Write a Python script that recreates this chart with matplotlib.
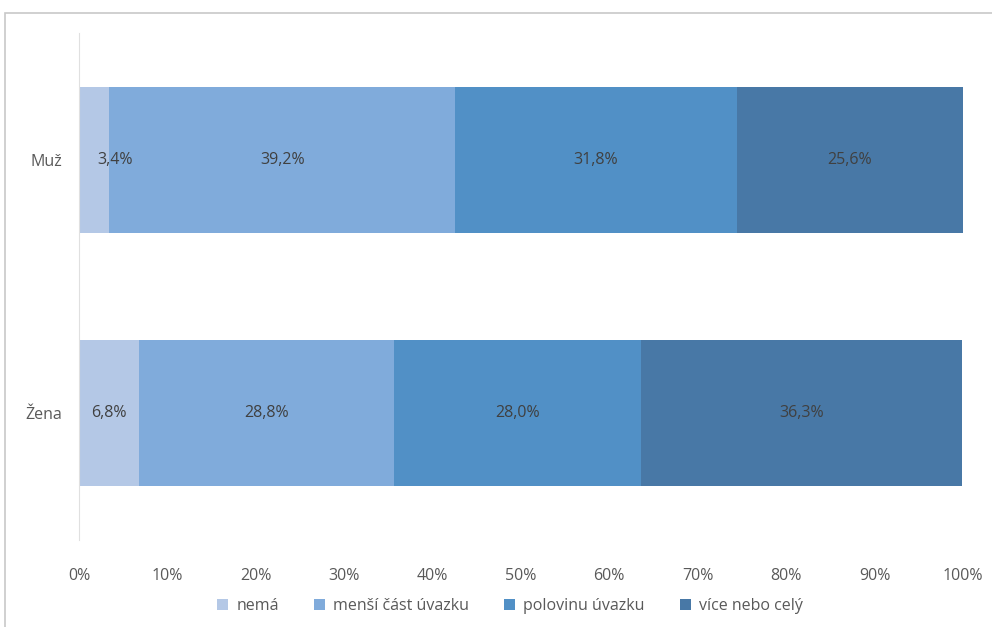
import matplotlib.pyplot as plt
from matplotlib.patches import Rectangle

plt.rcParams['font.family'] = ['Open Sans', 'DejaVu Sans']

# data
groups = ['Žena', 'Muž']
series = ['nemá', 'menší část úvazku', 'polovinu úvazku', 'více nebo celý']
nema = [6.8, 3.4]
mensi = [28.8, 39.2]
polovina = [28.0, 31.8]
vice = [36.3, 25.6]
labels_zena = ['6,8%', '28,8%', '28,0%', '36,3%']
labels_muz = ['3,4%', '39,2%', '31,8%', '25,6%']
colors = ['#b4c8e6', '#80abdb', '#5190c6', '#4878a6']

fig = plt.figure(figsize=(9.92, 6.27), dpi=100)
ax = fig.add_axes([0.0796, 0.139, 0.891, 0.808])

values = [nema, mensi, polovina, vice]
left = [0, 0]
for i, vals in enumerate(values):
    ax.barh(range(len(groups)), vals, left=left, height=0.574,
            color=colors[i], label=series[i])
    for j, v in enumerate(vals):
        txt = labels_zena[i] if j == 0 else labels_muz[i]
        # the narrow 3,4% label sits a bit to the right in the original
        dx = 15 if v < 5 else 0
        ax.annotate(txt, (left[j] + v / 2, j), xytext=(dx, 0),
                    textcoords='offset points', ha='center', va='center',
                    fontsize=11.5, color='#404040')
    left = [left[k] + vals[k] for k in range(len(vals))]

ax.set_xlim(0, 100)
ax.set_ylim(-0.5, 1.5)
ax.set_yticks(range(len(groups)))
ax.set_yticklabels(groups)
ax.set_xticks(range(0, 101, 10))
ax.set_xticklabels([f'{t}%' for t in range(0, 101, 10)])
ax.tick_params(length=0, labelsize=11.5, labelcolor='#595959')
ax.tick_params(axis='x', pad=20)
ax.tick_params(axis='y', pad=12)
for s in ['top', 'right', 'bottom']:
    ax.spines[s].set_visible(False)
ax.spines['left'].set_color('#e0e0e0')

# outer chart border (partially visible)
fig.patches.append(Rectangle((5 / 992, -0.1), 2, 1 - 13 / 627 + 0.1,
                             transform=fig.transFigure, fill=False,
                             edgecolor='#c8c8c8', linewidth=1.2))

fig.legend(loc='center', bbox_to_anchor=(510 / 992, 1 - 606 / 627), ncol=4,
           frameon=False, handlelength=0.7, handleheight=0.7,
           handletextpad=0.5, columnspacing=2.2, fontsize=11.5,
           labelcolor='#595959')

fig.savefig('out.png', dpi=100)
